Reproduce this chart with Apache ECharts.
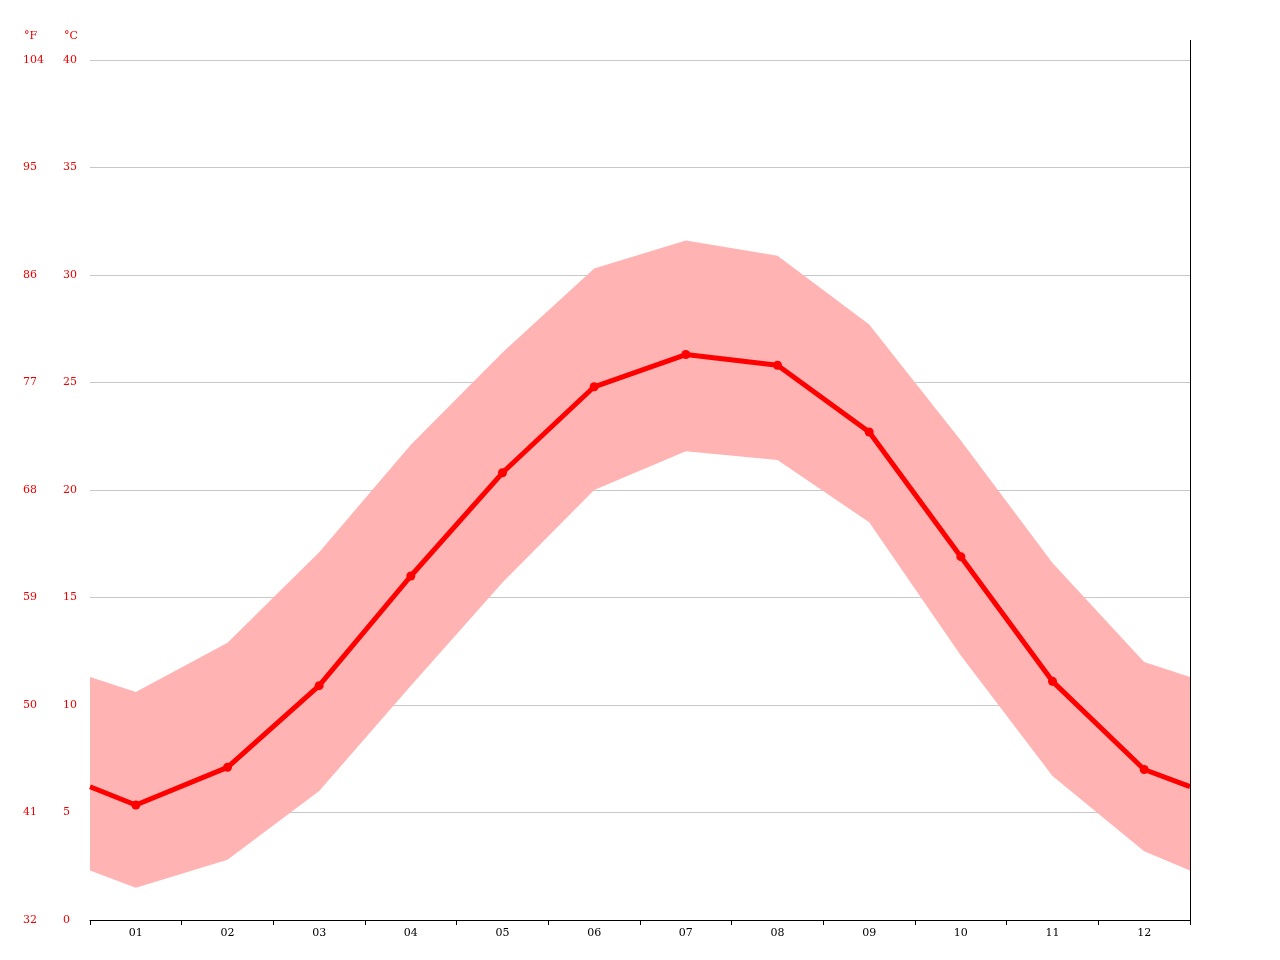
<!DOCTYPE html>
<html><head><meta charset="utf-8">
<script src="https://cdn.jsdelivr.net/npm/echarts@6/dist/echarts.min.js"></script>
<style>html,body{margin:0;padding:0;background:#fff}#c{width:1280px;height:960px}</style>
</head><body><div id="c"></div>
<script>
const months = ['01','02','03','04','05','06','07','08','09','10','11','12'];
const meanT = [5.35,7.1,10.9,16.0,20.8,24.8,26.3,25.8,22.7,16.9,11.1,7.0];
const highT = [10.6,12.9,17.1,22.1,26.4,30.3,31.6,30.9,27.7,22.3,16.6,12.0];
const lowT  = [1.5,2.8,6.0,10.9,15.7,20.0,21.8,21.4,18.5,12.3,6.7,3.2];
// values read at the plot's left/right edges (half month before Jan / after Dec)
const edgeMean = 6.2, edgeHigh = 11.3, edgeLow = 2.3;
const cTicks = [0,5,10,15,20,25,30,35,40];
const fTicks = [32,41,50,59,68,77,86,95,104];

function withEdges(arr, e){
  const out=[[0.5,e]];
  arr.forEach((v,i)=>out.push([i+1,v]));
  out.push([12.5,e]);
  return out;
}
const lowData = withEdges(lowT, edgeLow);
const highData = withEdges(highT, edgeHigh);
const meanData = withEdges(meanT, edgeMean).map((p,i,a)=>({value:p, symbol:(i===0||i===a.length-1)?'none':'circle'}));

const font = 'DejaVu Serif';
const chart = echarts.init(document.getElementById('c'));
chart.setOption({
  animation:false,
  grid:{left:90,right:90,top:60,bottom:40},
  xAxis:[
    {type:'category',data:months,boundaryGap:true,
     axisLine:{show:true,lineStyle:{color:'#000'}},axisTick:{show:true,interval:0,length:5,lineStyle:{color:'#000'}},
     axisLabel:{color:'#000',fontFamily:font,fontSize:11,margin:8},splitLine:{show:false},z:10},
    {type:'value',min:0.5,max:12.5,show:false}
  ],
  yAxis:[
    {type:'value',min:0,max:40,interval:5,
     axisLine:{show:false},axisTick:{show:false},
     axisLabel:{color:'#e00',fontFamily:font,fontSize:11,align:'left',margin:27,padding:[2,0,0,0]},
     splitLine:{lineStyle:{color:'#c8c8c8'}}},
    {type:'value',min:32,max:104,interval:9,position:'left',
     axisLine:{show:false},axisTick:{show:false},
     axisLabel:{color:'#e00',fontFamily:font,fontSize:11,align:'left',margin:67,padding:[2,0,0,0]},
     splitLine:{show:false}}
  ],
  graphic:[
    {type:'text',left:24,top:31,style:{text:'°F',fill:'#e00',font:'11px "DejaVu Serif"'}},
    {type:'text',left:64,top:31,style:{text:'°C',fill:'#e00',font:'11px "DejaVu Serif"'}},
    {type:'line',shape:{x1:1190.5,y1:40,x2:1190.5,y2:920},style:{stroke:'#000',lineWidth:1},z:100}
  ],
  series:[
    {type:'custom',xAxisIndex:1,yAxisIndex:0,data:[[0.5,0]],silent:true,z:1,
     renderItem:function(params,api){
       const pts=[];
       highData.forEach(p=>pts.push(api.coord(p)));
       lowData.slice().reverse().forEach(p=>pts.push(api.coord(p)));
       return {type:'polygon',shape:{points:pts},style:{fill:'#ffb3b3'}};
     }},
    {type:'line',xAxisIndex:1,data:meanData,symbolSize:9,itemStyle:{color:'#f00'},lineStyle:{color:'#f00',width:5},z:5}
  ]
});
</script></body></html>
